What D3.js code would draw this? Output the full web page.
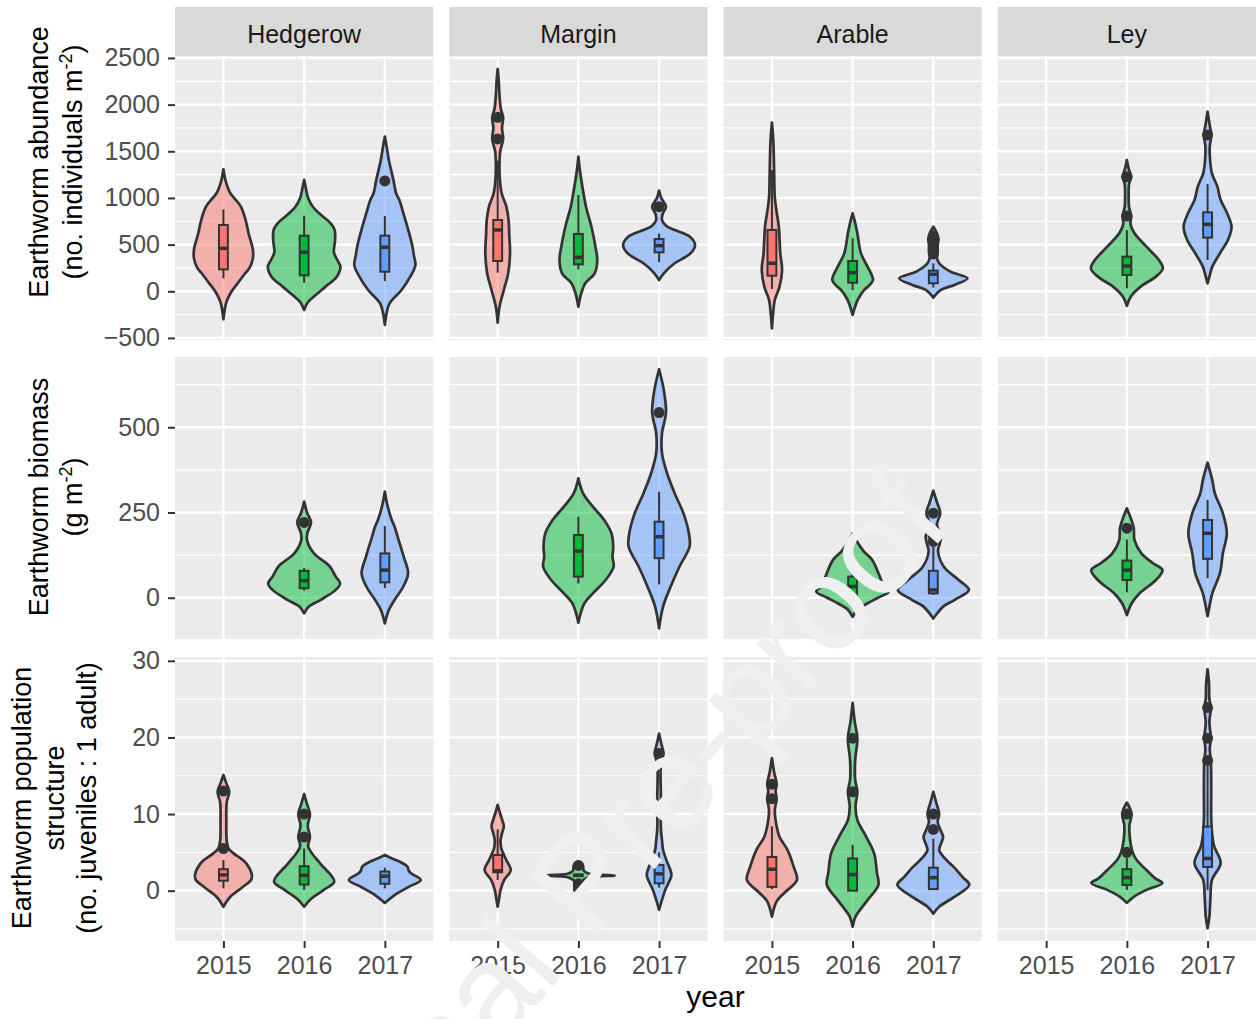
<!DOCTYPE html>
<html>
<head>
<meta charset="utf-8">
<script src="https://cdn.jsdelivr.net/npm/d3@7"></script>
<style>
  body { margin: 0; background: #fff; }
  svg { display: block; }
  text { font-family: "Liberation Sans", Arial, Helvetica, sans-serif; }
</style>
</head>
<body>
<svg id="chart" width="1257" height="1019"></svg>
<script>
// ---- categories ----
const habitats = ["Hedgerow", "Margin", "Arable", "Ley"];
const years = ["2015", "2016", "2017"];

// ---- tick labels ----
const abundanceTicks = [-500, 0, 500, 1000, 1500, 2000, 2500];
const biomassTicks = [0, 250, 500];
const structureTicks = [0, 10, 20, 30];

// Violin outlines: [value, relative density] pairs, one entry per habitat x year
// (Hedgerow 2015..2017, Margin 2015..2017, Arable 2015..2017, Ley 2015..2017); null = no samples.
const abundanceProfiles = [
  [[1307,0],[1200,0.05],[1121,0.11],[1050,0.19],[906,0.48],[750,0.62],[624,0.69],[450,0.81],[350,0.81],[250,0.72],[193,0.6],[85,0.39],[-10,0.21],[-118,0.08],[-300,0]],
  [[1193,0],[1100,0.05],[1000,0.11],[900,0.25],[820,0.46],[740,0.7],[657,0.84],[540,0.85],[418,0.82],[330,0.92],[264,1.0],[156,0.9],[50,0.59],[-57,0.27],[-120,0.1],[-200,0]],
  [[1657,0],[1550,0.05],[1407,0.11],[1186,0.24],[1050,0.31],[978,0.4],[850,0.5],[692,0.62],[500,0.75],[385,0.8],[278,0.84],[157,0.7],[14,0.46],[-129,0.13],[-250,0.04],[-361,0]],
  [[2382,0],[2250,0.03],[2100,0.05],[1950,0.09],[1864,0.15],[1750,0.12],[1632,0.15],[1500,0.07],[1350,0.05],[1200,0.06],[1050,0.11],[907,0.24],[764,0.3],[600,0.32],[408,0.34],[193,0.29],[14,0.17],[-165,0.05],[-336,0]],
  [[1443,0],[1300,0.04],[1121,0.11],[906,0.21],[692,0.36],[478,0.47],[335,0.52],[193,0.45],[85,0.19],[-21,0.08],[-165,0]],
  [[1078,0],[1000,0.06],[907,0.19],[830,0.1],[764,0.08],[700,0.2],[657,0.43],[585,0.85],[496,0.99],[408,0.87],[350,0.65],[300,0.43],[193,0.13],[121,0]],
  [[1807,0],[1600,0.04],[1300,0.06],[1000,0.08],[850,0.13],[692,0.19],[408,0.23],[228,0.28],[50,0.21],[-93,0.08],[-250,0.03],[-397,0]],
  [[836,0],[750,0.06],[621,0.13],[407,0.23],[264,0.41],[180,0.52],[121,0.56],[60,0.45],[14,0.32],[-93,0.14],[-254,0]],
  [[692,0],[620,0.1],[560,0.14],[500,0.12],[420,0.12],[360,0.1],[300,0.16],[210,0.47],[139,0.94],[68,0.58],[14,0.21],[-68,0]],
  null,
  [[1407,0],[1300,0.06],[1228,0.12],[1150,0.06],[1000,0.05],[900,0.06],[807,0.12],[720,0.1],[621,0.21],[478,0.54],[335,0.88],[246,0.99],[157,0.8],[50,0.38],[-57,0.11],[-157,0]],
  [[1924,0],[1800,0.05],[1675,0.1],[1550,0.06],[1400,0.07],[1264,0.12],[1121,0.27],[978,0.36],[835,0.54],[692,0.66],[549,0.56],[407,0.34],[264,0.13],[157,0.05],[85,0]]
];
const biomassProfiles = [
  null,
  [[282,0],[250,0.08],[221,0.19],[190,0.09],[169,0.08],[130,0.27],[93,0.7],[62,0.87],[42,0.99],[23,0.87],[-6,0.46],[-26,0.13],[-46,0]],
  [[311,0],[267,0.08],[228,0.19],[208,0.27],[169,0.38],[120,0.52],[72,0.64],[33,0.51],[-6,0.27],[-36,0.11],[-75,0]],
  null,
  [[350,0],[306,0.13],[267,0.4],[228,0.71],[189,0.91],[150,0.96],[120,0.94],[91,0.97],[52,0.75],[13,0.4],[-17,0.16],[-73,0]],
  [[670,0],[609,0.13],[543,0.19],[482,0.08],[424,0.08],[365,0.22],[306,0.43],[248,0.67],[189,0.82],[150,0.84],[91,0.56],[33,0.32],[-26,0.11],[-90,0]],
  null,
  [[189,0],[165,0.12],[137,0.3],[111,0.54],[62,0.75],[35,0.85],[18,1.0],[0,0.7],[-17,0.4],[-35,0.13],[-56,0]],
  [[314,0],[280,0.1],[248,0.19],[215,0.1],[180,0.21],[160,0.18],[137,0.13],[91,0.29],[52,0.7],[23,0.98],[-6,0.59],[-26,0.27],[-61,0]],
  null,
  [[262,0],[230,0.12],[204,0.19],[169,0.21],[130,0.4],[101,0.72],[81,0.98],[52,0.8],[13,0.35],[-17,0.13],[-51,0]],
  [[396,0],[345,0.13],[306,0.2],[248,0.42],[189,0.53],[130,0.42],[72,0.34],[13,0.13],[-26,0.05],[-54,0]]
];
const structureProfiles = [
  [[15.1,0],[14,0.08],[12.9,0.16],[11.5,0.09],[9,0.08],[6.5,0.09],[5.5,0.14],[4.9,0.27],[3.5,0.64],[1.6,0.78],[0.5,0.54],[-0.8,0.19],[-2.1,0]],
  [[12.6,0],[11.3,0.08],[10,0.16],[8.5,0.1],[7,0.16],[5.8,0.11],[4.9,0.21],[3.5,0.45],[1.2,0.83],[0.1,0.54],[-1,0.21],[-2.1,0]],
  [[4.66,0],[4.2,0.2],[3.8,0.4],[3.15,0.62],[2.6,0.66],[2.27,0.72],[1.4,0.99],[0.52,0.67],[-0.57,0.27],[-1.6,0]],
  [[11.2,0],[10.2,0.06],[9.3,0.12],[8.4,0.17],[7.5,0.12],[6.6,0.08],[5.5,0.1],[4.6,0.18],[3.96,0.24],[2.7,0.36],[1.4,0.18],[0.1,0.08],[-1,0.04],[-2.1,0]],
  [[3.8,0],[3.4,0.12],[2.6,0.15],[2.2,0.3],[1.96,1.0],[1.75,0.3],[1.3,0.12],[0.5,0.1],[0,0]],
  [[20.5,0],[19.2,0.06],[17.9,0.12],[16.5,0.05],[12,0.05],[8,0.05],[6.6,0.08],[5.3,0.11],[4.0,0.2],[2.05,0.34],[1.0,0.26],[0.1,0.17],[-1.2,0.08],[-2.5,0]],
  [[17.3,0],[15.5,0.06],[13.9,0.13],[13,0.1],[12,0.13],[10.5,0.08],[8.4,0.13],[7.0,0.21],[5.3,0.43],[3.1,0.6],[1.4,0.69],[-0.3,0.34],[-1.4,0.13],[-3.4,0]],
  [[24.5,0],[22,0.06],[19.9,0.13],[17,0.07],[14.5,0.07],[12.9,0.13],[11,0.08],[9.2,0.13],[7.5,0.32],[4.9,0.59],[2.3,0.67],[0.75,0.71],[-1.3,0.4],[-3.4,0.08],[-4.7,0]],
  [[12.9,0],[11.5,0.08],[10,0.16],[9,0.12],[8,0.19],[7,0.27],[6,0.2],[5.3,0.16],[4.3,0.3],[3.1,0.56],[1.8,0.8],[0.75,0.99],[-0.8,0.58],[-2.1,0.16],[-3.0,0]],
  null,
  [[11.5,0],[10.8,0.08],[10,0.13],[8.5,0.07],[7,0.08],[5,0.16],[4.0,0.27],[2.7,0.54],[1.6,0.78],[1.0,0.98],[0.1,0.54],[-0.8,0.19],[-1.6,0]],
  [[28.9,0],[27,0.04],[25,0.05],[23.9,0.09],[22,0.05],[19.9,0.09],[18.5,0.06],[17,0.09],[15,0.1],[12,0.1],[9.5,0.1],[7.2,0.13],[5.8,0.18],[3.6,0.36],[1.4,0.12],[-0.8,0.08],[-3.4,0.05],[-4.9,0]]
];

// Box statistics: [lower whisker, Q1, median, Q3, upper whisker]
const abundanceBoxes = [
  [139,235,460,710,878],[90,171,418,596,810],[110,210,471,596,807],
  [200,325,657,764,1400],[236,289,364,614,1032],[311,418,489,560,620],
  [25,167,300,657,1300],[14,92,200,325,568],[40,86,182,221,300],
  null,[32,175,271,371,657],[335,575,717,846,1150]
];
const biomassBoxes = [
  null,[21,28,50,79,87],[28,45,81,130,210],
  null,[42,62,137,184,238],[39,116,179,223,311],
  null,[2,5,33,62,130],[8,13,23,79,150],
  null,[16,52,81,109,171],[57,114,189,228,287]
];
const structureBoxes = [
  [0.3,1.3,2.05,2.8,4.0],[0.1,0.8,2.0,3.2,5.5],[0.3,0.9,1.9,2.5,3.0],
  [1.4,2.4,2.6,4.66,8.0],[1.8,1.9,2.0,2.1,2.2],[0.4,0.96,2.2,3.35,5.0],
  [0.2,0.5,2.8,4.4,8.4],[0,0,2.1,4.2,6.0],[0.1,0.2,1.7,3.0,6.8],
  null,[0.1,0.75,1.7,2.8,4.3],[0.1,3.1,4.2,8.36,16.3]
];

// Outlying observations
const abundanceOutliers = [
  [],[],[1182],
  [1632,1864],[],[907],
  [],[],[400,470,530,590],
  [],[807,1228],[1675]
];
const biomassOutliers = [
  [],[221],[],
  [],[],[543],
  [],[],[165,180,248],
  [],[204],[]
];
const structureOutliers = [
  [5.5,13.0],[7.0,10.0],[],
  [],[0.2,0.9,3.3],[17.9],
  [12.0,13.9],[12.9,19.9],[8.0,10.0],
  [],[5.0,10.0],[17.0,19.9,23.9]
];

// ---- styling ----
const yearFill = { "2015": "#F8766D", "2016": "#00BA38", "2017": "#619CFF" };
const ink = "#333333";

const W = 1257, H = 1019;
const svg = d3.select("#chart");
svg.append("rect").attr("width", W).attr("height", H).attr("fill", "#ffffff");

const rows = [
  { domain: [-522, 2521], top: 56, bottom: 340, ticks: abundanceTicks,
    profiles: abundanceProfiles, boxes: abundanceBoxes, outliers: abundanceOutliers,
    title: [["Earthworm abundance"], ["(no. individuals m", { sup: "-2" }, ")"]],
    titleX: [48, 82], titleY: 162 },
  { domain: [-121, 706], top: 357, bottom: 639, ticks: biomassTicks,
    profiles: biomassProfiles, boxes: biomassBoxes, outliers: biomassOutliers,
    title: [["Earthworm biomass"], ["(g m", { sup: "-2" }, ")"]],
    titleX: [48, 82], titleY: 497 },
  { domain: [-6.57, 30.5], top: 657, bottom: 941, ticks: structureTicks,
    profiles: structureProfiles, boxes: structureBoxes, outliers: structureOutliers,
    title: [["Earthworm population"], ["structure"], ["(no. juveniles : 1 adult)"]],
    titleX: [31, 64, 96], titleY: 798 }
];

const panelBand = d3.scaleBand().domain(habitats).range([175, 1256]).paddingInner(0.0583);
const bw = panelBand.bandwidth();
const xInner = d3.scalePoint().domain(years).range([0, bw]).padding(0.6);
const halfWidth = d3.scaleLinear().domain([0, 1]).range([0, 0.45 * xInner.step()]);
const boxHalf = 0.055 * xInner.step();
const fmt = d3.format("d");

// facet strips
habitats.forEach(hab => {
  const g = svg.append("g").attr("transform", `translate(${panelBand(hab)},0)`);
  g.append("rect").attr("x", 0).attr("y", 7).attr("width", bw).attr("height", 49).attr("fill", "#D9D9D9");
  g.append("text").attr("x", bw / 2).attr("y", 42.5).attr("text-anchor", "middle")
    .attr("font-size", 25).attr("fill", "#1A1A1A").text(hab);
});

rows.forEach((row, r) => {
  const y = d3.scaleLinear().domain(row.domain).range([row.bottom, row.top]);
  const step = row.ticks[1] - row.ticks[0];
  const minor = d3.range(row.ticks[0] - step / 2, row.ticks[row.ticks.length - 1] + step, step)
    .filter(v => v >= row.domain[0] && v <= row.domain[1]);

  habitats.forEach((hab, h) => {
    const g = svg.append("g").attr("transform", `translate(${panelBand(hab)},0)`);
    g.append("rect").attr("x", 0).attr("y", row.top).attr("width", bw)
      .attr("height", row.bottom - row.top).attr("fill", "#EBEBEB");

    g.selectAll(null).data(minor).join("line")
      .attr("x1", 0).attr("x2", bw).attr("y1", d => y(d)).attr("y2", d => y(d))
      .attr("stroke", "#fff").attr("stroke-width", 1.2);
    g.selectAll(null).data(row.ticks).join("line")
      .attr("x1", 0).attr("x2", bw).attr("y1", d => y(d)).attr("y2", d => y(d))
      .attr("stroke", "#fff").attr("stroke-width", 2.3);
    g.selectAll(null).data(years).join("line")
      .attr("x1", d => xInner(d)).attr("x2", d => xInner(d))
      .attr("y1", row.top).attr("y2", row.bottom)
      .attr("stroke", "#fff").attr("stroke-width", 2.3);

    years.forEach((yr, k) => {
      const idx = h * 3 + k;
      const prof = row.profiles[idx];
      if (!prof) return;
      const cx = xInner(yr);
      const area = d3.area()
        .curve(d3.curveCatmullRom.alpha(0.5))
        .y(p => y(p[0]))
        .x0(p => cx - halfWidth(p[1]))
        .x1(p => cx + halfWidth(p[1]));
      const sorted = prof.slice().sort((a, b) => b[0] - a[0]);
      g.append("path").attr("d", area(sorted))
        .attr("fill", yearFill[yr]).attr("fill-opacity", 0.5)
        .attr("stroke", ink).attr("stroke-width", 2.7).attr("stroke-linejoin", "round");

      const b = row.boxes[idx];
      if (b) {
        const [lo, q1, med, q3, hi] = b;
        g.append("line").attr("x1", cx).attr("x2", cx).attr("y1", y(q3)).attr("y2", y(hi))
          .attr("stroke", ink).attr("stroke-width", 2);
        g.append("line").attr("x1", cx).attr("x2", cx).attr("y1", y(q1)).attr("y2", y(lo))
          .attr("stroke", ink).attr("stroke-width", 2);
        g.append("rect").attr("x", cx - boxHalf).attr("width", 2 * boxHalf)
          .attr("y", y(q3)).attr("height", Math.max(0.5, y(q1) - y(q3)))
          .attr("fill", yearFill[yr]).attr("stroke", ink).attr("stroke-width", 2);
        g.append("line").attr("x1", cx - boxHalf).attr("x2", cx + boxHalf)
          .attr("y1", y(med)).attr("y2", y(med))
          .attr("stroke", ink).attr("stroke-width", 3.5);
      }
      g.selectAll(null).data(row.outliers[idx]).join("circle")
        .attr("cx", cx).attr("cy", d => y(d)).attr("r", 5.5).attr("fill", ink);
    });

    // y axis on the first column
    if (h === 0) {
      const ax = svg.append("g").attr("transform", `translate(${panelBand(hab)},0)`)
        .call(d3.axisLeft(y).tickValues(row.ticks).tickFormat(fmt).tickSize(7).tickPadding(8));
      ax.select(".domain").remove();
      ax.selectAll(".tick line").attr("stroke", ink).attr("stroke-width", 2);
      ax.selectAll(".tick text").attr("font-size", 25).attr("fill", "#4D4D4D")
        .attr("font-family", "Liberation Sans, Arial, sans-serif");
    }
    // x axis under the last row
    if (r === rows.length - 1) {
      const ax = svg.append("g").attr("transform", `translate(${panelBand(hab)},${row.bottom})`)
        .call(d3.axisBottom(xInner).tickSize(7).tickPadding(8));
      ax.select(".domain").remove();
      ax.selectAll(".tick line").attr("stroke", ink).attr("stroke-width", 2);
      ax.selectAll(".tick text").attr("font-size", 25).attr("fill", "#4D4D4D")
        .attr("font-family", "Liberation Sans, Arial, sans-serif");
    }
  });

  // y axis title (rotated, one text per line)
  row.title.forEach((parts, li) => {
    const t = svg.append("text")
      .attr("transform", `translate(${row.titleX[li]},${row.titleY}) rotate(-90)`)
      .attr("text-anchor", "middle").attr("font-size", 27).attr("fill", "#000");
    let raised = false;
    parts.forEach(p => {
      if (typeof p === "string") {
        t.append("tspan").attr("dy", raised ? 10 : 0).text(p);
        raised = false;
      } else {
        t.append("tspan").attr("dy", -10).attr("font-size", 18).text(p.sup);
        raised = true;
      }
    });
  });
});

// x axis title
svg.append("text").attr("x", (175 + 1256) / 2).attr("y", 1007)
  .attr("text-anchor", "middle").attr("font-size", 30).attr("fill", "#000").text("year");

// diagonal pre-print watermark over the figure
svg.append("text")
  .attr("transform", "translate(280,1300) rotate(-49)")
  .attr("font-size", 133).attr("fill", "#EFEFEF")
  .text("Journal Pre-proof");
</script>
</body>
</html>
